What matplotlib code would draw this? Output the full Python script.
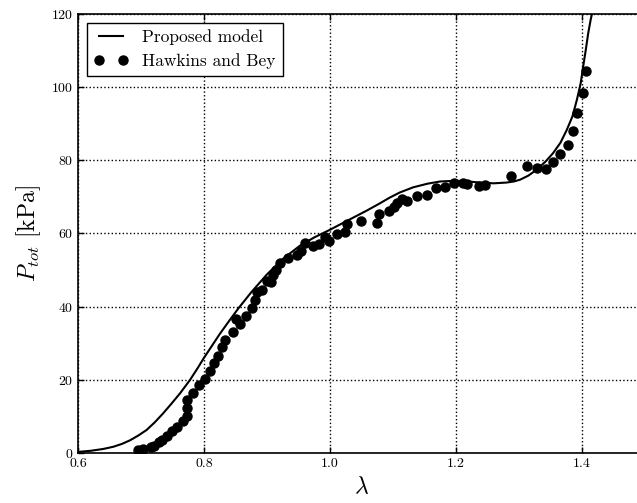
import matplotlib
matplotlib.use("Agg")
import matplotlib.pyplot as plt

plt.rcParams['font.family'] = 'serif'
plt.rcParams['font.serif'] = ['cmr10', 'DejaVu Serif']
plt.rcParams['mathtext.fontset'] = 'cm'
plt.rcParams['axes.formatter.use_mathtext'] = True
plt.rcParams['xtick.direction'] = 'in'
plt.rcParams['ytick.direction'] = 'in'
plt.rcParams['xtick.top'] = True
plt.rcParams['ytick.right'] = True

# proposed model curve
lam_model = [0.600, 0.620, 0.640, 0.656, 0.670, 0.683, 0.696, 0.709, 0.722, 0.735,
             0.748, 0.762, 0.778, 0.790, 0.800, 0.810, 0.825, 0.840, 0.855, 0.875,
             0.900, 0.925, 0.952, 0.975, 1.000, 1.030, 1.058, 1.079, 1.095, 1.111,
             1.132, 1.155, 1.175, 1.201, 1.220, 1.238, 1.260, 1.280, 1.292, 1.302,
             1.315, 1.328, 1.342, 1.354, 1.366, 1.376, 1.385, 1.392, 1.398, 1.402,
             1.406, 1.410, 1.414, 1.418, 1.422]
p_model = [0.3, 0.6, 1.1, 1.7, 2.5, 3.5, 4.8, 6.3, 8.4, 10.8,
           13.4, 16.3, 20.0, 23.2, 26.0, 28.6, 32.5, 36.1, 39.6, 43.9,
           48.8, 53.0, 56.6, 58.9, 61.0, 63.7, 66.2, 68.2, 69.8, 71.2,
           72.6, 73.6, 74.2, 74.4, 74.2, 73.9, 73.7, 73.9, 74.2, 74.7,
           75.8, 77.4, 79.6, 81.9, 84.8, 88.3, 92.0, 96.5, 101.0, 105.6,
           110.0, 114.7, 118.5, 121.5, 125.0]

# Hawkins and Bey data
lam_hb = [0.696, 0.704, 0.716, 0.721, 0.728, 0.733, 0.741, 0.749, 0.758, 0.767,
          0.773, 0.773, 0.773, 0.782, 0.792, 0.802, 0.810, 0.816, 0.823, 0.828,
          0.833, 0.846, 0.851, 0.858, 0.867, 0.876, 0.881, 0.884, 0.892, 0.900,
          0.907, 0.910, 0.914, 0.921, 0.934, 0.947, 0.954, 0.960, 0.973, 0.983,
          0.992, 0.999, 1.012, 1.024, 1.027, 1.050, 1.074, 1.078, 1.094, 1.101,
          1.107, 1.114, 1.123, 1.138, 1.154, 1.168, 1.183, 1.197, 1.212, 1.218,
          1.237, 1.246, 1.287, 1.313, 1.328, 1.343, 1.354, 1.366, 1.378, 1.386,
          1.393, 1.401, 1.407]
p_hb = [0.8, 1.0, 1.6, 1.9, 3.1, 3.6, 4.6, 6.1, 7.0, 8.8,
        10.1, 12.4, 14.5, 16.3, 18.6, 20.3, 22.5, 24.5, 26.5, 28.9,
        30.9, 33.0, 36.5, 35.3, 37.4, 39.6, 41.8, 44.1, 44.6, 47.1,
        46.8, 48.7, 50.0, 51.9, 53.4, 54.1, 55.3, 57.5, 56.7, 57.1,
        59.1, 58.0, 59.8, 60.5, 62.6, 63.4, 62.8, 65.3, 66.2, 67.3,
        68.4, 69.4, 69.0, 70.1, 70.5, 72.4, 72.6, 73.7, 73.7, 73.5,
        73.1, 73.3, 75.7, 78.5, 78.0, 77.6, 79.5, 81.7, 84.2, 88.1,
        93.0, 98.3, 104.5]

xticks = [0.6, 0.8, 1.0, 1.2, 1.4]
yticks = [0, 20, 40, 60, 80, 100, 120]

fig = plt.figure(figsize=(6.37, 5.03), dpi=100)
ax = fig.add_axes([0.1224, 0.0994, 0.890, 0.873])

ax.plot(lam_model, p_model, color='black', linewidth=1.5, label='Proposed model')
ax.plot(lam_hb, p_hb, 'o', color='black', markersize=6.5, label='Hawkins and Bey')

ax.set_xlim(0.6, 1.5)
ax.set_ylim(0, 120)
ax.set_xticks(xticks)
ax.set_yticks(yticks)
ax.set_xticklabels(['0.6', '0.8', '1.0', '1.2', '1.4'])
ax.tick_params(labelsize=10, length=4, width=1)
ax.grid(True, color='black', linestyle=':', linewidth=1)
for s in ax.spines.values():
    s.set_linewidth(1.2)

ax.set_xlabel(r'$\lambda$', fontsize=17, labelpad=4)
ax.set_ylabel(r'$P_{tot}$ [kPa]', fontsize=17, labelpad=6)

leg = ax.legend(loc='upper left', numpoints=2, fancybox=False, fontsize=12.5,
                edgecolor='black', framealpha=1, borderaxespad=0.5,
                handlelength=2.0, labelspacing=0.45)
leg.get_frame().set_linewidth(1.0)

fig.savefig("out.png", dpi=100)
plt.close()
